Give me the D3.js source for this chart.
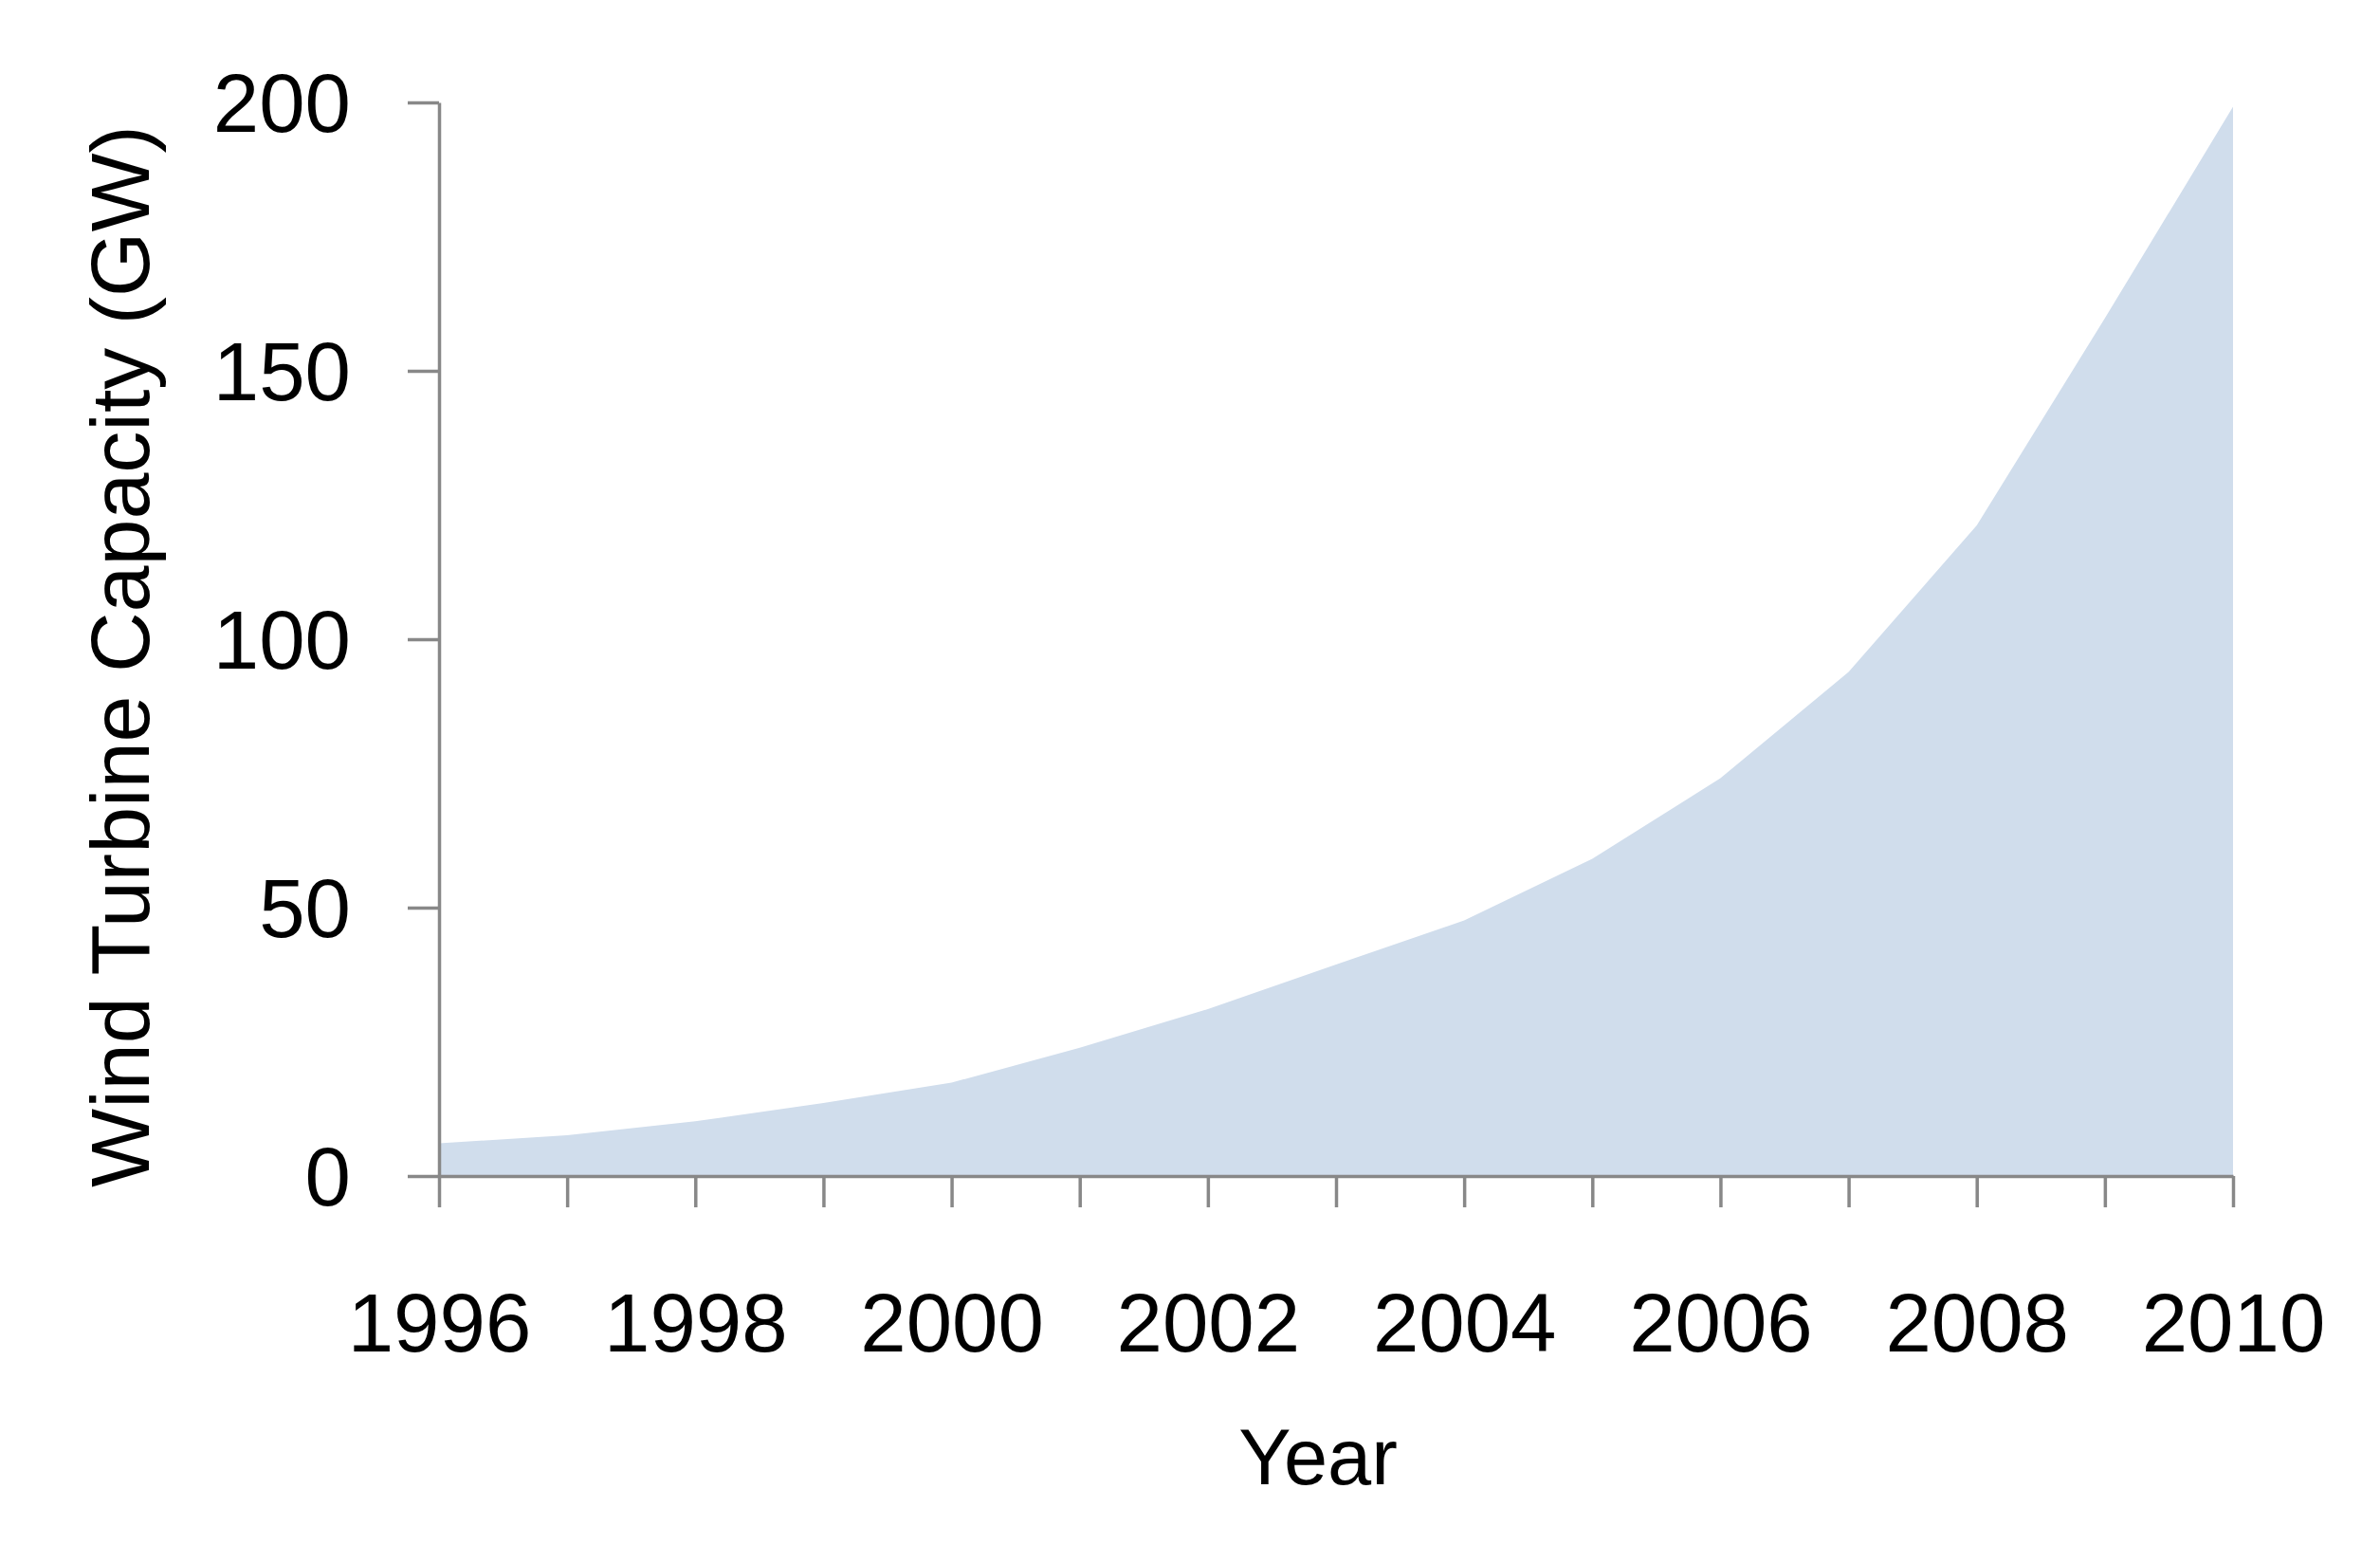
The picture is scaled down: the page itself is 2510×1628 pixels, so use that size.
<!DOCTYPE html>
<html>
<head>
<meta charset="utf-8">
<script src="https://cdn.jsdelivr.net/npm/d3@7"></script>
<style>
  html, body { margin: 0; padding: 0; background: #fff; }
  svg { display: block; }
</style>
</head>
<body>
<svg id="chart" width="2510" height="1628"></svg>
<script>
const years = [1996, 1997, 1998, 1999, 2000, 2001, 2002, 2003, 2004, 2005, 2006, 2007, 2008, 2009, 2010];
const capacity = [6.1, 7.6, 10.2, 13.6, 17.4, 23.9, 31.1, 39.4, 47.6, 59.1, 74.1, 93.9, 121.2, 159.8, 199.2];
const yTicks = [0, 50, 100, 150, 200];
const xTickLabels = [1996, 1998, 2000, 2002, 2004, 2006, 2008, 2010];
const xTitle = "Year";
const yTitle = "Wind Turbine Capacity (GW)";

(function () {
const svg = d3.select("#chart");
const mLeft = 463, mRight = 2355, mTop = 108, mBottom = 1240;
const font = "'Liberation Sans', Arial, sans-serif";
const axisColor = "#888888";

const x = d3.scaleLinear().domain([1996, 2010]).range([mLeft, mRight]);
const y = d3.scaleLinear().domain([0, 200]).range([mBottom, mTop]);

const data = years.map((yr, i) => ({ yr, v: capacity[i] }));

svg.append("path")
  .datum(data)
  .attr("fill", "#d0ddec")
  .attr("d", d3.area().x(d => x(d.yr)).y0(y(0)).y1(d => y(d.v)));

// Y axis
const yAxis = svg.append("g")
  .attr("transform", `translate(${mLeft},0)`)
  .call(d3.axisLeft(y).tickValues(yTicks).tickSize(33).tickSizeOuter(0).tickPadding(60));
yAxis.select(".domain").attr("stroke", axisColor).attr("stroke-width", 3.5);
yAxis.selectAll(".tick line").attr("stroke", axisColor).attr("stroke-width", 3.5);
yAxis.selectAll(".tick text")
  .attr("fill", "#000")
  .style("font-family", font)
  .style("font-size", "87px")
  .attr("dy", "0.35em");

// X axis
const xAxis = svg.append("g")
  .attr("transform", `translate(0,${mBottom})`)
  .call(d3.axisBottom(x).tickValues(years).tickSize(33).tickSizeOuter(0)
    .tickFormat(d => xTickLabels.includes(d) ? String(d) : ""));
xAxis.select(".domain").attr("stroke", axisColor).attr("stroke-width", 3.5);
xAxis.selectAll(".tick line").attr("stroke", axisColor).attr("stroke-width", 3.5);
xAxis.selectAll(".tick text")
  .attr("fill", "#000")
  .attr("y", 185)
  .attr("dy", 0)
  .style("font-family", font)
  .style("font-size", "87px");

// Titles
svg.append("text")
  .attr("x", 1390)
  .attr("y", 1565)
  .attr("text-anchor", "middle")
  .style("font-family", font)
  .style("font-size", "83px")
  .attr("fill", "#000")
  .text(xTitle);

svg.append("text")
  .attr("transform", "translate(157,692) rotate(-90)")
  .attr("text-anchor", "middle")
  .style("font-family", font)
  .style("font-size", "88px")
  .attr("fill", "#000")
  .text(yTitle);
})();
</script>
</body>
</html>
